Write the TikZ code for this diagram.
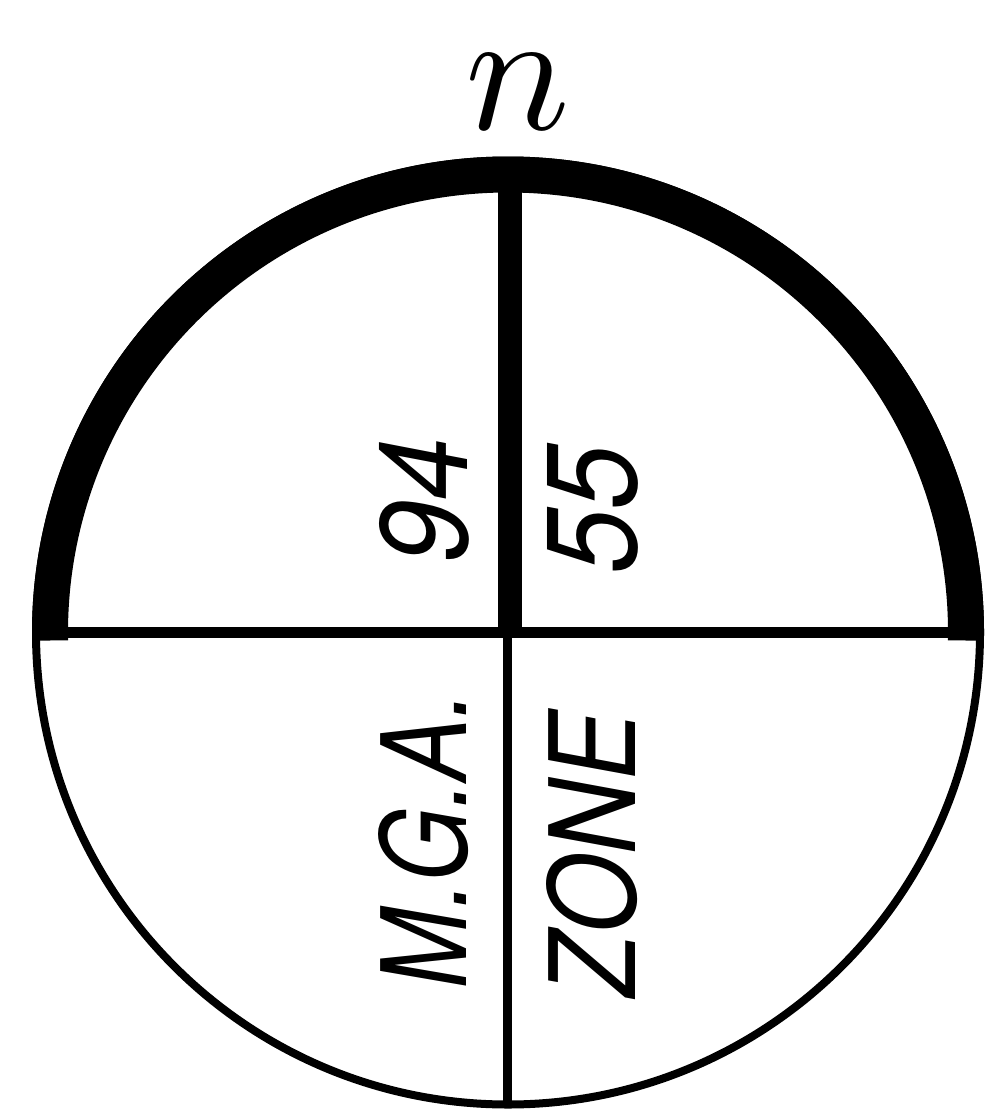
\documentclass[tikz,border=0pt]{standalone}
\usepackage{fontspec}
\usepackage{graphicx}
\newfontfamily\labfont{TeX Gyre Heros}
\begin{document}
\begin{tikzpicture}[x=1pt,y=-1pt,
  thinring/.style={line width=8pt},
  thickring/.style={line width=36pt, line cap=butt},
  hline/.style={line width=11pt},
  vthick/.style={line width=24pt},
  vthin/.style={line width=9pt},
  lab/.style={inner sep=0pt, rotate=90, font=\labfont\itshape}]
\useasboundingbox (0,0) rectangle (990,1113);
\coordinate (c) at (508,632.5);
\coordinate (L) at (37,632.5);
\coordinate (R) at (979,632.5);
\coordinate (T) at (510,170);
\coordinate (M) at (510,638);
\coordinate (Mb) at (507.5,632.5);
\coordinate (B) at (507.5,1104);
% thin full circle
\draw[thinring] (c) circle[radius=472];
% thick upper arc
\draw[thickring] (c) ++(1:458) arc[start angle=1, end angle=-181, radius=458];
% horizontal diameter
\draw[hline] (L) -- (R);
% vertical lines
\draw[vthick] (T) -- (M);
\draw[vthin] (Mb) -- (B);
% labels
\node[lab] (n94) at (424,500.5) {\resizebox{125pt}{88pt}{94}};
\node[lab] (n55) at (592.5,509) {\resizebox{128pt}{89pt}{55}};
\node[lab] (mga) at (424,840) {\resizebox{296pt}{88pt}{M.G.A.}};
\node[lab] (zone) at (592.5,854.5) {\resizebox{285pt}{89pt}{ZONE}};
\node[inner sep=0pt] (nn) at (518,92) {\resizebox{!}{75pt}{$n$}};
\end{tikzpicture}
\end{document}
